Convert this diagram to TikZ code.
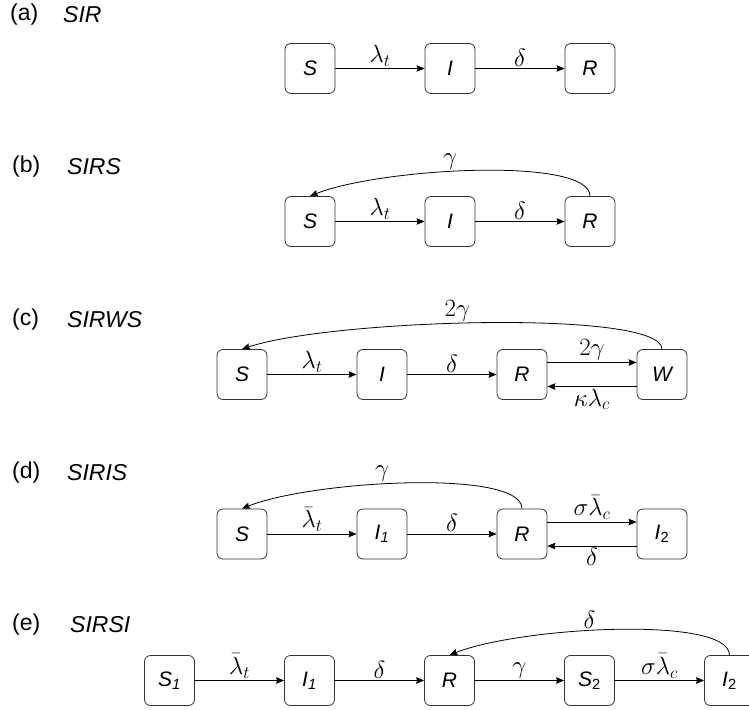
\documentclass[tikz,border=0pt]{standalone}
\usepackage{fontspec}
\setmainfont{Liberation Sans}
\usetikzlibrary{positioning,arrows.meta}

\tikzstyle{box} = [rectangle, rounded corners=6pt, minimum width=50pt, minimum height=50pt, text centered, draw=black!80, line width=0.8pt, font=\fontsize{21}{24}\selectfont\itshape]
\tikzstyle{arrow} = [line width=0.8pt,->,>={Stealth[length=8pt,width=6.5pt,inset=1pt]}, font=\fontsize{23}{26}\selectfont, inner sep=2pt]
\tikzstyle{tag} = [anchor=west, inner sep=0pt, font=\fontsize{23}{26}\selectfont]
\tikzstyle{model} = [anchor=west, inner sep=0pt, font=\fontsize{23}{26}\selectfont\itshape]

\begin{document}
\begin{tikzpicture}[x=1pt,y=-1pt]
  \useasboundingbox (0,0) rectangle (749,709);

  % (a) SIR
  \node (a tag) [tag] at (10,15) {(a)};
  \node (a model) [model] at (63,15) {SIR};
  \node (a S) [box] at (310,68.5) {S};
  \node (a I) [box, right of=a S, xshift=3.92cm] {I};
  \node (a R) [box, right of=a I, xshift=3.92cm] {R};

  \draw [arrow] (a S) -- (a I) node[midway, above] {$\lambda_t$};
  \draw [arrow] (a I) -- (a R) node[midway, above] {$\delta$};

  % (b) SIRS
  \node (b tag) [tag] at (12,167) {(b)};
  \node (b model) [model] at (67,167) {SIRS};
  \node (b S) [box] at (310,221.5) {S};
  \node (b I) [box, right of=b S, xshift=3.92cm] {I};
  \node (b R) [box, right of=b I, xshift=3.92cm] {R};

  \draw [arrow] (b S) -- (b I) node[midway, above] {$\lambda_t$};
  \draw [arrow] (b I) -- (b R) node[midway, above] {$\delta$};
  \draw [arrow] (b R.north) .. controls +(0,-40) and +(70,-28) .. (b S.north) node[pos=0.57, above] {$\gamma$};

  % (c) SIRWS
  \node (c tag) [tag] at (12,320) {(c)};
  \node (c model) [model] at (67,320) {SIRWS};
  \node (c S) [box] at (242,374.5) {S};
  \node (c I) [box, right of=c S, xshift=3.92cm] {I};
  \node (c R) [box, right of=c I, xshift=3.92cm] {R};
  \node (c W) [box, right of=c R, xshift=3.92cm] {W};

  \draw [arrow] (c S) -- (c I) node[midway, above] {$\lambda_t$};
  \draw [arrow] (c I) -- (c R) node[midway, above] {$\delta$};
  \draw [arrow] ([yshift=12pt]c R.east) -- ([yshift=12pt]c W.west) node[midway, above] {$2\gamma$};
  \draw [arrow] ([yshift=-12pt]c W.west) -- ([yshift=-12pt]c R.east) node[midway, below] {$\kappa\lambda_c$};
  \draw [arrow] (c W.north) .. controls +(0,-40) and +(90,-30) .. (c S.north) node[pos=0.55, above] {$2\gamma$};

  % (d) SIRIS
  \node (d tag) [tag] at (12,473) {(d)};
  \node (d model) [model] at (67,473) {SIRIS};
  \node (d S) [box] at (242,534) {S};
  \node (d I1) [box, right of=d S, xshift=3.92cm] {I\textsubscript{\textit{1}}};
  \node (d R) [box, right of=d I1, xshift=3.92cm] {R};
  \node (d I2) [box, right of=d R, xshift=3.92cm] {I\textsubscript{\upshape 2}};

  \draw [arrow] (d S) -- (d I1) node[midway, above] {$\bar\lambda_t$};
  \draw [arrow] (d I1) -- (d R) node[midway, above] {$\delta$};
  \draw [arrow] ([yshift=12pt]d R.east) -- ([yshift=12pt]d I2.west) node[midway, above] {$\sigma\bar\lambda_c$};
  \draw [arrow] ([yshift=-12pt]d I2.west) -- ([yshift=-12pt]d R.east) node[midway, below] {$\delta$};
  \draw [arrow] (d R.north) .. controls +(0,-40) and +(70,-28) .. (d S.north) node[pos=0.57, above] {$\gamma$};

  % (e) SIRSI
  \node (e tag) [tag] at (12,625) {(e)};
  \node (e model) [model] at (70,625) {SIRSI};
  \node (e S1) [box] at (169.5,680.5) {S\textsubscript{\textit{1}}};
  \node (e I1) [box, right of=e S1, xshift=3.92cm] {I\textsubscript{\textit{1}}};
  \node (e R) [box, right of=e I1, xshift=3.92cm] {R};
  \node (e S2) [box, right of=e R, xshift=3.92cm] {S\textsubscript{\upshape 2}};
  \node (e I2) [box, right of=e S2, xshift=3.92cm] {I\textsubscript{\upshape 2}};

  \draw [arrow] (e S1) -- (e I1) node[midway, above] {$\bar\lambda_t$};
  \draw [arrow] (e I1) -- (e R) node[midway, above] {$\delta$};
  \draw [arrow] (e R) -- (e S2) node[midway, above] {$\gamma$};
  \draw [arrow] (e S2) -- (e I2) node[midway, above] {$\sigma\bar\lambda_c$};
  \draw [arrow] (e I2.north) .. controls +(0,-40) and +(70,-28) .. (e R.north) node[pos=0.57, above] {$\delta$};
\end{tikzpicture}
\end{document}
